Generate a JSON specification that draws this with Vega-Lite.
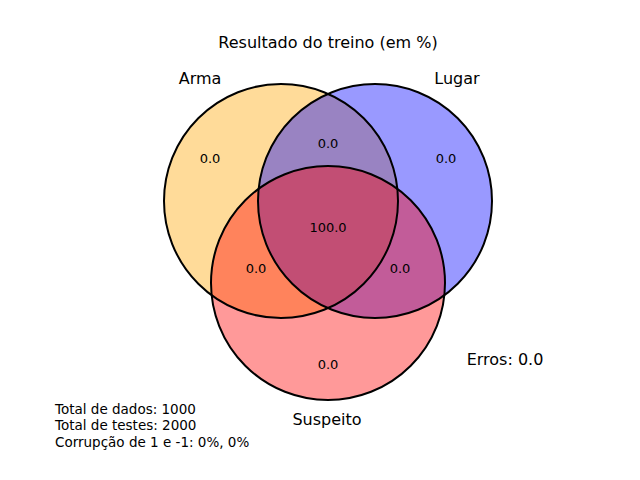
{
  "$schema": "https://vega.github.io/schema/vega-lite/v6.json",
  "width": 640,
  "height": 480,
  "padding": 0,
  "autosize": "none",
  "config": {"view": {"stroke": null}, "font": "DejaVu Sans"},
  "datasets": {
    "circles": [
      {"set": "Arma", "x": 281, "y": 201},
      {"set": "Lugar", "x": 375, "y": 201},
      {"set": "Suspeito", "x": 328, "y": 283}
    ],
    "regions": [
      {"label": "0.0", "x": 210, "y": 159},
      {"label": "0.0", "x": 328, "y": 144},
      {"label": "0.0", "x": 446, "y": 159},
      {"label": "100.0", "x": 328, "y": 228},
      {"label": "0.0", "x": 256, "y": 269},
      {"label": "0.0", "x": 400, "y": 269},
      {"label": "0.0", "x": 328, "y": 365}
    ],
    "setlabels": [
      {"label": "Arma", "x": 200, "y": 79},
      {"label": "Lugar", "x": 457, "y": 79},
      {"label": "Suspeito", "x": 327, "y": 420},
      {"label": "Resultado do treino (em %)", "x": 328, "y": 43},
      {"label": "Erros: 0.0", "x": 505, "y": 360}
    ],
    "notes": [
      {"label": "Total de dados: 1000", "x": 55, "y": 410},
      {"label": "Total de testes: 2000", "x": 55, "y": 426},
      {"label": "Corrupção de 1 e -1: 0%, 0%", "x": 55, "y": 443}
    ]
  },
  "encoding": {
    "x": {"field": "x", "type": "quantitative", "scale": {"domain": [0, 640], "range": [0, 640]}, "axis": null},
    "y": {"field": "y", "type": "quantitative", "scale": {"domain": [0, 480], "range": [0, 480]}, "axis": null}
  },
  "layer": [
    {
      "data": {"name": "circles"},
      "mark": {"type": "point", "shape": "circle", "filled": true, "size": 54756, "opacity": 0.4, "strokeWidth": 0},
      "encoding": {
        "color": {"field": "set", "type": "nominal", "scale": {"domain": ["Arma", "Lugar", "Suspeito"], "range": ["#ffa500", "#0000ff", "#ff0000"]}, "legend": null}
      }
    },
    {
      "data": {"name": "circles"},
      "mark": {"type": "point", "shape": "circle", "filled": false, "size": 54756, "stroke": "black", "strokeWidth": 2, "opacity": 1}
    },
    {
      "data": {"name": "regions"},
      "mark": {"type": "text", "fontSize": 13, "align": "center", "baseline": "middle", "color": "black"},
      "encoding": {"text": {"field": "label"}}
    },
    {
      "data": {"name": "setlabels"},
      "mark": {"type": "text", "fontSize": 16, "align": "center", "baseline": "middle", "color": "black"},
      "encoding": {"text": {"field": "label"}}
    },
    {
      "data": {"name": "notes"},
      "mark": {"type": "text", "fontSize": 13.5, "align": "left", "baseline": "middle", "color": "black"},
      "encoding": {"text": {"field": "label"}}
    }
  ]
}
